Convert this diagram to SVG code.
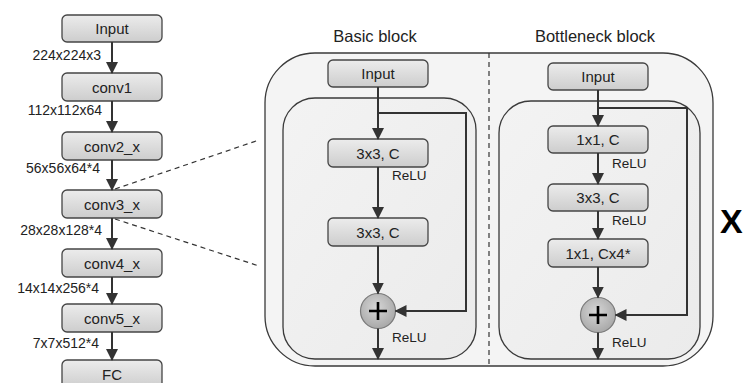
<svg xmlns="http://www.w3.org/2000/svg" width="744" height="383" viewBox="0 0 744 383">
<defs>
<linearGradient id="boxg" x1="0" y1="0" x2="0" y2="1">
<stop offset="0" stop-color="#ececec"/>
<stop offset="1" stop-color="#cdcdcd"/>
</linearGradient>
<linearGradient id="inner" x1="0" y1="0" x2="1" y2="1">
<stop offset="0" stop-color="#f3f3f3"/>
<stop offset="1" stop-color="#ebebeb"/>
</linearGradient>
<radialGradient id="circ" cx="0.45" cy="0.4" r="0.6">
<stop offset="0" stop-color="#d6d6d6"/>
<stop offset="1" stop-color="#a9a9a9"/>
</radialGradient>
<marker id="ah" markerUnits="userSpaceOnUse" markerWidth="12" markerHeight="12" viewBox="0 0 12 12" refX="11" refY="6" orient="auto">
<path d="M0,0 L12,6 L0,12 Z" fill="#333"/>
</marker>
<style>
.box{fill:url(#boxg);stroke:#454545;stroke-width:1.3}
.t{font-family:"Liberation Sans",Arial,sans-serif;font-size:15px;fill:#222;text-anchor:middle}
.lab{font-family:"Liberation Sans",Arial,sans-serif;font-size:14px;fill:#222;text-anchor:end}
.relu{font-family:"Liberation Sans",Arial,sans-serif;font-size:13.5px;fill:#222}
.title{font-family:"Liberation Sans",Arial,sans-serif;font-size:16.5px;fill:#222;text-anchor:middle}
.ar{stroke:#333;stroke-width:2;fill:none;marker-end:url(#ah)}
.ln{stroke:#333;stroke-width:2;fill:none}
.dash{stroke:#333;stroke-width:1.2;stroke-dasharray:5,4;fill:none}
.circ{fill:url(#circ);stroke:#7a7a7a;stroke-width:1.2}
</style>
</defs>
<rect width="744" height="383" fill="#ffffff"/>

<!-- Containers -->
<g id="container">
<rect x="265" y="53" width="448" height="313" rx="50" ry="50" fill="#f4f4f4" stroke="#3a3a3a" stroke-width="1.3"/>
<line x1="489" y1="53" x2="489" y2="366" class="dash"/>
<rect x="283" y="98" width="193" height="261" rx="32" ry="32" fill="url(#inner)" stroke="#3a3a3a" stroke-width="1.3"/>
<rect x="499" y="101" width="201" height="258" rx="32" ry="32" fill="url(#inner)" stroke="#3a3a3a" stroke-width="1.3"/>
<text class="title" x="375" y="42">Basic block</text>
<text class="title" x="595" y="42">Bottleneck block</text>
</g>

<!-- Left column nodes -->
<g id="n-input"><rect class="box" x="62" y="15" width="100" height="27" rx="5"/><text class="t" x="112" y="34">Input</text></g>
<g id="n-conv1"><rect class="box" x="62" y="73" width="100" height="28" rx="5"/><text class="t" x="112" y="92.5">conv1</text></g>
<g id="n-conv2"><rect class="box" x="62" y="132" width="100" height="28" rx="5"/><text class="t" x="112" y="151.5">conv2_x</text></g>
<g id="n-conv3"><rect class="box" x="62" y="190" width="100" height="28" rx="5"/><text class="t" x="112" y="209.5">conv3_x</text></g>
<g id="n-conv4"><rect class="box" x="62" y="249" width="100" height="28" rx="5"/><text class="t" x="112" y="268.5">conv4_x</text></g>
<g id="n-conv5"><rect class="box" x="62" y="304" width="100" height="28" rx="5"/><text class="t" x="112" y="323.5">conv5_x</text></g>
<g id="n-fc"><rect class="box" x="62" y="360" width="100" height="28" rx="5"/><text class="t" x="112" y="379.5">FC</text></g>

<!-- Basic block nodes -->
<g id="b-input"><rect class="box" x="328" y="60" width="100" height="27" rx="5"/><text class="t" x="378" y="79">Input</text></g>
<g id="b-conv1"><rect class="box" x="328" y="139" width="100" height="28" rx="5"/><text class="t" x="378" y="158.5">3x3, C</text></g>
<g id="b-conv2"><rect class="box" x="328" y="218" width="100" height="28" rx="5"/><text class="t" x="378" y="237.5">3x3, C</text></g>
<g id="b-add"><circle class="circ" cx="378" cy="311" r="17.5"/><path d="M378,302 V320 M369,311 H387" stroke="#000" stroke-width="2.6"/></g>

<!-- Bottleneck nodes -->
<g id="k-input"><rect class="box" x="548" y="63" width="100" height="27" rx="5"/><text class="t" x="598" y="82">Input</text></g>
<g id="k-conv1"><rect class="box" x="548" y="126" width="100" height="27" rx="5"/><text class="t" x="598" y="145">1x1, C</text></g>
<g id="k-conv2"><rect class="box" x="548" y="184" width="100" height="27" rx="5"/><text class="t" x="598" y="203">3x3, C</text></g>
<g id="k-conv3"><rect class="box" x="548" y="239" width="100" height="28" rx="5"/><text class="t" x="598" y="258.5">1x1, Cx4*</text></g>
<g id="k-add"><circle class="circ" cx="598" cy="315" r="17.5"/><path d="M598,306 V324 M589,315 H607" stroke="#000" stroke-width="2.6"/></g>

<!-- Connectors -->
<g id="connectors">
<line class="ar" x1="112" y1="42" x2="112" y2="73"/>
<line class="ar" x1="112" y1="101" x2="112" y2="132"/>
<line class="ar" x1="112" y1="160" x2="112" y2="190"/>
<line class="ar" x1="112" y1="218" x2="112" y2="249"/>
<line class="ar" x1="112" y1="277" x2="112" y2="304"/>
<line class="ar" x1="112" y1="332" x2="112" y2="360"/>
<line class="dash" x1="115" y1="189" x2="259" y2="140"/>
<line class="dash" x1="115" y1="219" x2="259" y2="266"/>

<line class="ar" x1="378" y1="87" x2="378" y2="139"/>
<line class="ar" x1="378" y1="167" x2="378" y2="218"/>
<line class="ar" x1="378" y1="246" x2="378" y2="293.5"/>
<line class="ar" x1="378" y1="328.5" x2="378" y2="359"/>
<path class="ar" d="M378,113 H466 V311 H395.5"/>

<line class="ar" x1="598" y1="90" x2="598" y2="126"/>
<line class="ar" x1="598" y1="153" x2="598" y2="184"/>
<line class="ar" x1="598" y1="211" x2="598" y2="239"/>
<line class="ar" x1="598" y1="267" x2="598" y2="297.5"/>
<line class="ar" x1="598" y1="332.5" x2="598" y2="359"/>
<path class="ar" d="M598,108 H687 V315 H615.5"/>
</g>

<!-- Labels -->
<g id="labels">
<text class="lab" x="101" y="60">224x224x3</text>
<text class="lab" x="102" y="115">112x112x64</text>
<text class="lab" x="100" y="173">56x56x64*4</text>
<text class="lab" x="102" y="235">28x28x128*4</text>
<text class="lab" x="99" y="293">14x14x256*4</text>
<text class="lab" x="99" y="348">7x7x512*4</text>
<text class="relu" x="392" y="180">ReLU</text>
<text class="relu" x="392" y="342">ReLU</text>
<text class="relu" x="612" y="168">ReLU</text>
<text class="relu" x="612" y="225">ReLU</text>
<text class="relu" x="612" y="347">ReLU</text>
<text x="720" y="233" font-family="Liberation Sans, Arial, sans-serif" font-size="34" font-weight="bold" fill="#000">X</text>
</g>
</svg>
